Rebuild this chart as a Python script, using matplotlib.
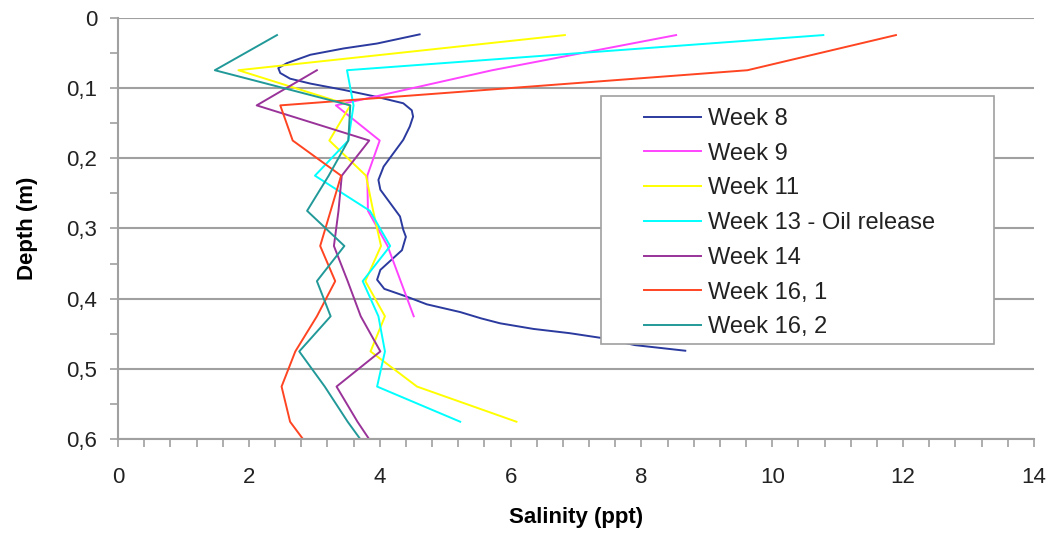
import numpy as np
import matplotlib
matplotlib.use("Agg")
import matplotlib.pyplot as plt
from matplotlib.ticker import MultipleLocator, FuncFormatter
from matplotlib.patches import Rectangle

plt.rcParams['font.family'] = ['Liberation Sans', 'DejaVu Sans']

# depth (m) and salinity (ppt)
depth_week8 = [0.024, 0.037, 0.044, 0.053, 0.065, 0.072, 0.079, 0.087, 0.094,
               0.103, 0.113, 0.122, 0.132, 0.141, 0.155, 0.174, 0.193, 0.212,
               0.231, 0.245, 0.264, 0.283, 0.302, 0.312, 0.331, 0.359, 0.373,
               0.386, 0.397, 0.408, 0.419, 0.428, 0.435, 0.443, 0.449, 0.456,
               0.466, 0.474]
sal_week8 = [4.61, 3.96, 3.45, 2.94, 2.58, 2.45, 2.48, 2.63, 2.94,
             3.45, 3.96, 4.36, 4.49, 4.51, 4.46, 4.36, 4.21, 4.06,
             3.98, 4.01, 4.16, 4.31, 4.36, 4.40, 4.34, 4.01, 3.96,
             4.07, 4.41, 4.72, 5.23, 5.55, 5.84, 6.35, 6.90, 7.40,
             7.90, 8.67]

depth_week9 = [0.025, 0.075, 0.125, 0.175, 0.225, 0.275, 0.325, 0.375, 0.425]
sal_week9 = [8.53, 5.72, 3.33, 4.00, 3.81, 3.82, 4.12, 4.32, 4.52]

depth_week11 = [0.025, 0.075, 0.125, 0.175, 0.225, 0.275, 0.325, 0.375,
                0.425, 0.475, 0.525, 0.575]
sal_week11 = [6.83, 1.84, 3.55, 3.23, 3.79, 3.90, 4.02, 3.78, 4.08, 3.86,
              4.57, 6.09]

depth_week13 = [0.025, 0.075, 0.125, 0.175, 0.225, 0.275, 0.325, 0.375,
                0.425, 0.475, 0.525, 0.575]
sal_week13 = [10.78, 3.50, 3.60, 3.52, 3.01, 3.85, 4.16, 3.74, 3.98, 4.08,
              3.96, 5.23]

depth_week14 = [0.075, 0.125, 0.175, 0.225, 0.275, 0.325, 0.375, 0.425,
                0.475, 0.525, 0.575, 0.625]
sal_week14 = [3.04, 2.12, 3.84, 3.42, 3.37, 3.30, 3.51, 3.71, 4.01, 3.34,
              3.66, 4.02]

depth_week16 = [0.025, 0.075, 0.125, 0.175, 0.225, 0.275, 0.325, 0.375,
                0.425, 0.475, 0.525, 0.575, 0.625]
sal_week16_1 = [11.89, 9.62, 2.48, 2.67, 3.41, 3.25, 3.09, 3.32, 3.04, 2.71,
                2.50, 2.63, 3.03]
sal_week16_2 = [2.43, 1.48, 3.55, 3.52, 3.22, 2.89, 3.46, 3.04, 3.25, 2.77,
                3.16, 3.51, 3.90]

series = [
    ("Week 8", sal_week8, depth_week8, "#2B3A9E"),
    ("Week 9", sal_week9, depth_week9, "#FF44FF"),
    ("Week 11", sal_week11, depth_week11, "#FFFF00"),
    ("Week 13 - Oil release", sal_week13, depth_week13, "#00FFFF"),
    ("Week 14", sal_week14, depth_week14, "#993399"),
    ("Week 16, 1", sal_week16_1, depth_week16, "#FF4422"),
    ("Week 16, 2", sal_week16_2, depth_week16, "#229999"),
]


def comma(v, pos):
    if abs(v) < 1e-9:
        return "0"
    return ("%g" % round(v, 2)).replace(".", ",")


def main():
    W, H = 1054, 533
    fig = plt.figure(figsize=(W / 100, H / 100), dpi=100)
    ax = fig.add_axes([118 / W, 1 - 439.3 / H, 916 / W, 421.8 / H])

    grey = "#A0A0A0"
    for label, x, y, c in series:
        ax.plot(x, y, color=c, lw=1.4, label=label)

    ax.set_xlim(0, 14)
    ax.set_ylim(0.6, 0)
    ax.xaxis.set_major_locator(MultipleLocator(2))
    ax.xaxis.set_minor_locator(MultipleLocator(0.4))
    ax.yaxis.set_major_locator(MultipleLocator(0.1))
    ax.yaxis.set_minor_locator(MultipleLocator(0.05))
    ax.yaxis.set_major_formatter(FuncFormatter(comma))
    ax.xaxis.set_major_formatter(FuncFormatter(comma))

    ax.grid(axis="y", which="major", color=grey, lw=1.5)
    ax.set_axisbelow(True)
    for s in ["top", "right"]:
        ax.spines[s].set_visible(False)
    for s in ["left", "bottom"]:
        ax.spines[s].set_color(grey)
        ax.spines[s].set_linewidth(1.5)

    ax.tick_params(which="both", direction="out", length=6, width=1.2,
                   color=grey, labelcolor="#222222", labelsize=16)
    ax.tick_params(axis="x", which="major", pad=14)
    ax.tick_params(axis="y", which="major", pad=9)

    ax.set_xlabel("Salinity (ppt)", fontsize=16, fontweight="bold")
    ax.set_ylabel("Depth (m)", fontsize=16, fontweight="bold")
    ax.xaxis.label.set_va("center")
    ax.yaxis.label.set_va("center")
    ax.xaxis.set_label_coords(0.5, (439.3 - 518) / 421.8)
    ax.yaxis.set_label_coords((28 - 118) / 916, 0.5)

    # legend box
    frame = Rectangle((601 / W, 1 - 344 / H), 393 / W, 248 / H,
                      transform=fig.transFigure, facecolor="white",
                      edgecolor=grey, lw=1.2, zorder=3)
    fig.patches.append(frame)
    handles, labels = ax.get_legend_handles_labels()
    leg = fig.legend(handles, labels, loc="upper left",
                     bbox_to_anchor=(644 / W, 1 - 108 / H), frameon=False,
                     borderpad=0, borderaxespad=0, fontsize=17,
                     handlelength=2.4, handletextpad=0.3, labelspacing=0.54)
    leg.set_zorder(4)
    for t in leg.get_texts():
        t.set_color("#222222")

    fig.savefig("out.png", dpi=100)


if __name__ == "__main__":
    main()
